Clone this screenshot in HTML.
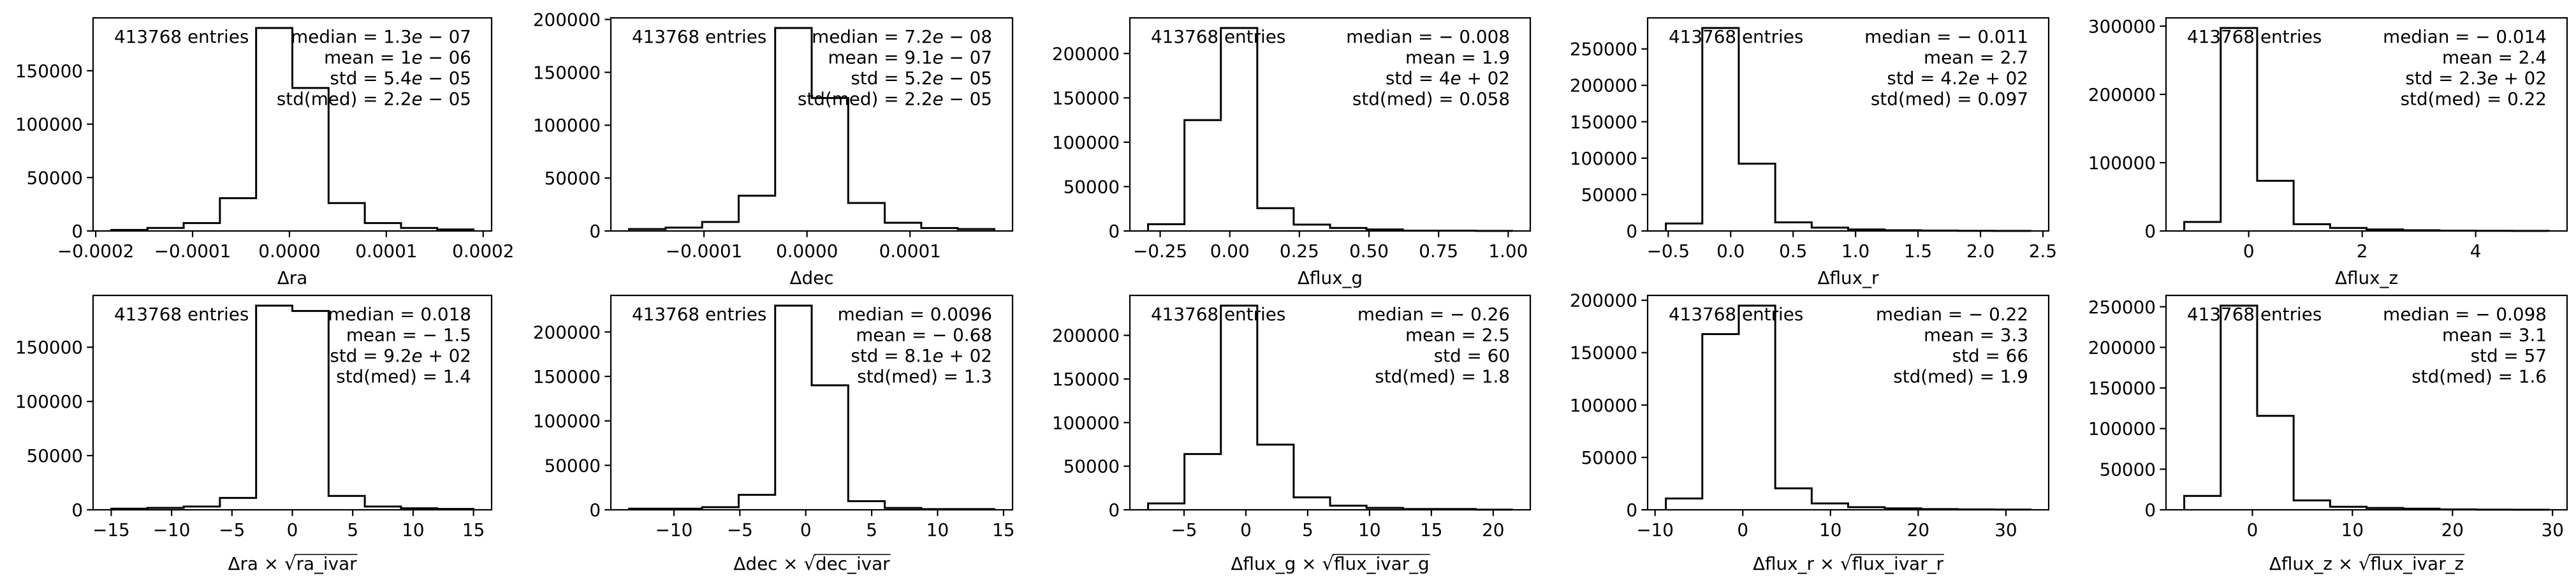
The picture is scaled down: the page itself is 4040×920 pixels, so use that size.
<!DOCTYPE html>
<html><head><meta charset="utf-8"><style>
html,body{margin:0;padding:0;background:#fff;}
svg{display:block;font-family:"DejaVu Sans","Liberation Sans",sans-serif;}
</style></head><body>
<svg id="fig" xmlns="http://www.w3.org/2000/svg" width="4040" height="920" viewBox="0 0 4040 920"></svg>
<script>
// ---- data (bin ranges [min,max], counts, ticks) ----
const rangeRa = [-0.000184, 0.00019];
const countsRa = [1000, 2800, 7400, 30700, 190000, 133900, 26100, 7400, 2800, 1400];
const xticksRa = [-0.0002, -0.0001, 0, 0.0001, 0.0002];
const xlabelsRa = ["−0.0002", "−0.0001", "0.0000", "0.0001", "0.0002"];
const yticksRa = [0, 50000, 100000, 150000];

const rangeDec = [-0.0001727, 0.0001818];
const countsDec = [1800, 3200, 8500, 33300, 191900, 125700, 26500, 7800, 2800, 1800];
const xticksDec = [-0.0001, 0, 0.0001];
const xlabelsDec = ["−0.0001", "0.0000", "0.0001"];
const yticksDec = [0, 50000, 100000, 150000, 200000];

const rangeG = [-0.2935, 1.014];
const countsG = [7600, 124900, 228700, 25700, 7200, 3400, 1700, 400, 400, 100];
const xticksG = [-0.25, 0, 0.25, 0.5, 0.75, 1.0];
const xlabelsG = ["−0.25", "0.00", "0.25", "0.50", "0.75", "1.00"];
const yticksG = [0, 50000, 100000, 150000, 200000];

const rangeR = [-0.519, 2.40];
const countsR = [10300, 278700, 92400, 11800, 4600, 2100, 1000, 500, 200, 100];
const xticksR = [-0.5, 0, 0.5, 1.0, 1.5, 2.0, 2.5];
const xlabelsR = ["−0.5", "0.0", "0.5", "1.0", "1.5", "2.0", "2.5"];
const yticksR = [0, 50000, 100000, 150000, 200000, 250000];

const rangeZ = [-1.136, 5.29];
const countsZ = [13200, 297200, 73500, 9900, 4400, 2200, 1100, 500, 200, 100];
const xticksZ = [0, 2, 4];
const xlabelsZ = ["0", "2", "4"];
const yticksZ = [0, 100000, 200000, 300000];

const rangeRaN = [-15, 15];
const countsRaN = [1000, 1800, 3000, 11000, 188400, 183500, 12800, 3000, 1400, 800];
const xticksRaN = [-15, -10, -5, 0, 5, 10, 15];
const yticksRaN = [0, 50000, 100000, 150000];

const rangeDecN = [-13.4, 14.3];
const countsDecN = [1300, 1300, 3000, 16900, 229600, 140000, 9700, 2100, 800, 800];
const xticksDecN = [-10, -5, 0, 5, 10, 15];
const yticksDecN = [0, 50000, 100000, 150000, 200000];

const rangeGN = [-7.91, 21.53];
const countsGN = [7300, 63900, 234100, 74700, 14300, 4800, 2200, 900, 900, 200];
const xticksGN = [-5, 0, 5, 10, 15, 20];
const yticksGN = [0, 50000, 100000, 150000, 200000];

const rangeRN = [-8.77, 32.8];
const countsRN = [10800, 167700, 194900, 20500, 6100, 2500, 1400, 700, 400, 200];
const xticksRN = [-10, 0, 10, 20, 30];
const yticksRN = [0, 50000, 100000, 150000, 200000];

const rangeZN = [-6.81, 29.63];
const countsZN = [17100, 251400, 115700, 11600, 3700, 2300, 1400, 500, 200, 100];
const xticksZN = [0, 10, 20, 30];
const yticksZN = [0, 50000, 100000, 150000, 200000, 250000];

const entriesText = "413768 entries";
const statsRa = [["median", "1.3", "− 07"], ["mean", "1", "− 06"], ["std", "5.4", "− 05"], ["std(med)", "2.2", "− 05"]];
const statsDec = [["median", "7.2", "− 08"], ["mean", "9.1", "− 07"], ["std", "5.2", "− 05"], ["std(med)", "2.2", "− 05"]];
const statsG = [["median", " − 0.008"], ["mean", "1.9"], ["std", "4", "+ 02"], ["std(med)", "0.058"]];
const statsR = [["median", " − 0.011"], ["mean", "2.7"], ["std", "4.2", "+ 02"], ["std(med)", "0.097"]];
const statsZ = [["median", " − 0.014"], ["mean", "2.4"], ["std", "2.3", "+ 02"], ["std(med)", "0.22"]];
const statsRaN = [["median", "0.018"], ["mean", " − 1.5"], ["std", "9.2", "+ 02"], ["std(med)", "1.4"]];
const statsDecN = [["median", "0.0096"], ["mean", " − 0.68"], ["std", "8.1", "+ 02"], ["std(med)", "1.3"]];
const statsGN = [["median", " − 0.26"], ["mean", "2.5"], ["std", "60"], ["std(med)", "1.8"]];
const statsRN = [["median", " − 0.22"], ["mean", "3.3"], ["std", "66"], ["std(med)", "1.9"]];
const statsZN = [["median", " − 0.098"], ["mean", "3.1"], ["std", "57"], ["std(med)", "1.6"]];

// ---- layout ----
const colX = [[146, 771], [958, 1588], [1772, 2400], [2584, 3213], [3397, 4026]];
const rowY = [[28, 362], [463, 799]];
const FS = 27.8;
const NS = "http://www.w3.org/2000/svg";
const svg = document.getElementById("fig");

function mk(tag, attrs, parent) {
  const e = document.createElementNS(NS, tag);
  for (const k in attrs) e.setAttribute(k, attrs[k]);
  (parent || svg).appendChild(e);
  return e;
}
function fmtTick(v) {
  return (v < 0 ? "−" : "") + String(Math.abs(v));
}

const panels = [
  {id: "ra", r: 0, c: 0, range: rangeRa, counts: countsRa, xt: xticksRa, xl: xlabelsRa, yt: yticksRa, stats: statsRa, lab: ["Δra"]},
  {id: "dec", r: 0, c: 1, range: rangeDec, counts: countsDec, xt: xticksDec, xl: xlabelsDec, yt: yticksDec, stats: statsDec, lab: ["Δdec"]},
  {id: "flux-g", r: 0, c: 2, range: rangeG, counts: countsG, xt: xticksG, xl: xlabelsG, yt: yticksG, stats: statsG, lab: ["Δflux_g"]},
  {id: "flux-r", r: 0, c: 3, range: rangeR, counts: countsR, xt: xticksR, xl: xlabelsR, yt: yticksR, stats: statsR, lab: ["Δflux_r"]},
  {id: "flux-z", r: 0, c: 4, range: rangeZ, counts: countsZ, xt: xticksZ, xl: xlabelsZ, yt: yticksZ, stats: statsZ, lab: ["Δflux_z"]},
  {id: "ra-norm", r: 1, c: 0, range: rangeRaN, counts: countsRaN, xt: xticksRaN, xl: null, yt: yticksRaN, stats: statsRaN, lab: ["Δra × ", "ra_ivar"]},
  {id: "dec-norm", r: 1, c: 1, range: rangeDecN, counts: countsDecN, xt: xticksDecN, xl: null, yt: yticksDecN, stats: statsDecN, lab: ["Δdec × ", "dec_ivar"]},
  {id: "flux-g-norm", r: 1, c: 2, range: rangeGN, counts: countsGN, xt: xticksGN, xl: null, yt: yticksGN, stats: statsGN, lab: ["Δflux_g × ", "flux_ivar_g"]},
  {id: "flux-r-norm", r: 1, c: 3, range: rangeRN, counts: countsRN, xt: xticksRN, xl: null, yt: yticksRN, stats: statsRN, lab: ["Δflux_r × ", "flux_ivar_r"]},
  {id: "flux-z-norm", r: 1, c: 4, range: rangeZN, counts: countsZN, xt: xticksZN, xl: null, yt: yticksZN, stats: statsZN, lab: ["Δflux_z × ", "flux_ivar_z"]}
];

panels.forEach(p => {
  const [L, R] = colX[p.c];
  const [T, B] = rowY[p.r];
  const g = mk("g", {});
  
  
  const lo = p.range[0], hi = p.range[1], span = hi - lo;
  const x0 = lo - 0.05 * span, x1 = hi + 0.05 * span;
  const ymax = 1.05 * Math.max(...p.counts);
  const sx = v => L + (v - x0) / (x1 - x0) * (R - L);
  const sy = v => B - v / ymax * (B - T);
  const n = p.counts.length;
  const bw = span / n;

  // histogram step line
  let d = "M" + sx(lo) + "," + sy(0);
  p.counts.forEach((cnt, i) => {
    d += " L" + sx(lo + i * bw) + "," + sy(cnt) + " L" + sx(lo + (i + 1) * bw) + "," + sy(cnt);
  });
  d += " L" + sx(hi) + "," + sy(0);
  const path = mk("path", {d: d, fill: "none", stroke: "#000", "stroke-width": 3, "stroke-linejoin": "miter"}, g);
  
  

  // spines
  const frame = mk("rect", {x: L, y: T, width: R - L, height: B - T, fill: "none", stroke: "#000", "stroke-width": 2.2}, g);
  
  

  // x ticks
  p.xt.forEach((v, i) => {
    const x = sx(v);
    mk("line", {x1: x, y1: B, x2: x, y2: B + 9.7, stroke: "#000", "stroke-width": 2.2}, g);
    const t = mk("text", {x: x, y: B + 41, "font-size": FS, "text-anchor": "middle", fill: "#000"}, g);
    
    
    t.textContent = p.xl ? p.xl[i] : fmtTick(v);
  });
  // y ticks
  p.yt.forEach(v => {
    const y = sy(v);
    mk("line", {x1: L, y1: y, x2: L - 9.7, y2: y, stroke: "#000", "stroke-width": 2.2}, g);
    const t = mk("text", {x: L - 16, y: y + 10, "font-size": FS, "text-anchor": "end", fill: "#000"}, g);
    
    
    t.textContent = String(v);
  });

  // entries text
  const et = mk("text", {x: L + 33, y: T + 39, "font-size": FS, fill: "#000"}, g);
  
  
  et.textContent = entriesText;

  // stats text
  p.stats.forEach((s, i) => {
    const t = mk("text", {x: R - 32, y: T + 39 + i * 32.5, "font-size": FS, "text-anchor": "end", fill: "#000"}, g);
    
    
    const a = mk("tspan", {}, t); a.textContent = s[0] + " = " + s[1];
    if (s.length > 2) {
      const e = mk("tspan", {"font-style": "italic"}, t); e.textContent = "e";
      const b = mk("tspan", {}, t); b.textContent = " " + s[2];
    }
  });

  // x label
  const cx = (L + R) / 2;
  const xlY = p.r === 0 ? B + 83 : B + 94;
  const xl = mk("text", {x: cx, y: xlY, "font-size": FS, "text-anchor": "middle", fill: "#000"}, g);
  
  
  if (p.lab.length === 1) {
    xl.textContent = p.lab[0];
  } else {
    const a = mk("tspan", {}, xl); a.textContent = p.lab[0];
    const sq = mk("tspan", {"font-size": FS * 1.05}, xl); sq.textContent = "√";
    const b = mk("tspan", {}, xl); b.textContent = p.lab[1];
    const bb = b.getBBox ? null : null;
    try {
      const total = xl.getComputedTextLength();
      const wb = b.getComputedTextLength();
      const endX = cx + total / 2;
      mk("line", {x1: endX - wb - 2, y1: xlY - 24, x2: endX + 1, y2: xlY - 24, stroke: "#000", "stroke-width": 1.5}, g);
    } catch (e) {}
  }
});
</script>
</body></html>
